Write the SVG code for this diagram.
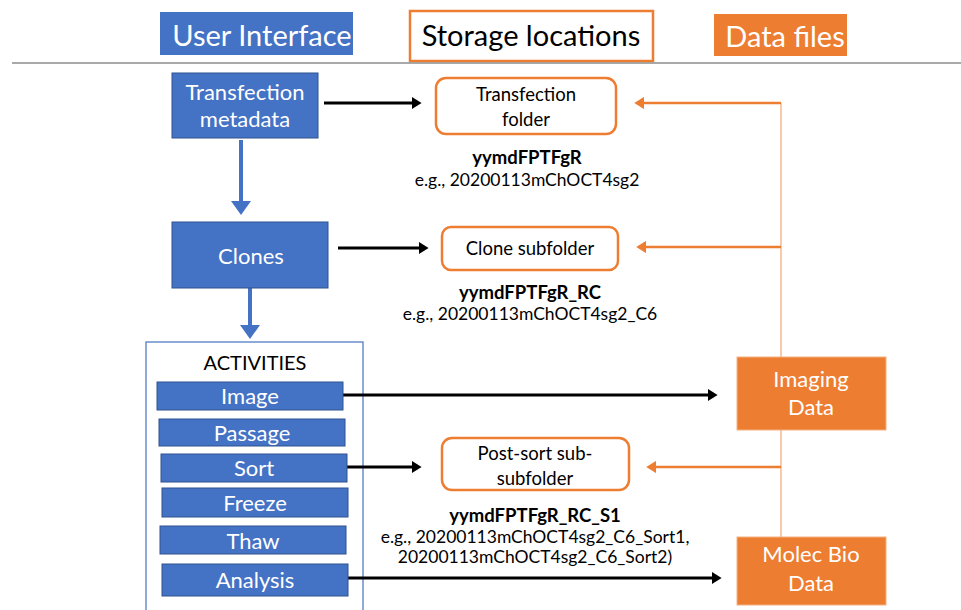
<svg xmlns="http://www.w3.org/2000/svg" width="961" height="610" viewBox="0 0 961 610">
<defs>
<style>
text{font-family:Lato,"Open Sans","Liberation Sans",sans-serif;text-anchor:middle}
.bf{fill:#4472C4;stroke:#2F528F;stroke-width:1}
.of{fill:#ED7D31;stroke:#F4B183;stroke-width:1}
.ob{fill:#fff;stroke:#ED7D31;stroke-width:2.5}
.wt{fill:#fff}
.bk{fill:#000}
.ar{stroke:#000;stroke-width:3;fill:none}
.oa{stroke:#ED7D31;stroke-width:2.5;fill:none}
.ol{stroke:#F4A572;stroke-width:1.2;fill:none}
.ba{stroke:#4472C4;stroke-width:4;fill:none}
</style>
<marker id="mk" markerWidth="4" markerHeight="4" refX="2" refY="2" orient="auto" markerUnits="strokeWidth"><path d="M0,0 L3.2,2 L0,4 z" fill="#000"/></marker>
<marker id="mo" markerWidth="5" markerHeight="5" refX="2.5" refY="2.5" orient="auto" markerUnits="strokeWidth"><path d="M0,0 L4,2.5 L0,5 z" fill="#ED7D31"/></marker>
<marker id="mb" markerWidth="5" markerHeight="5" refX="2.5" refY="2.5" orient="auto" markerUnits="strokeWidth"><path d="M0,0 L3.5,2.5 L0,5 z" fill="#4472C4"/></marker>
</defs>
<rect width="961" height="610" fill="#fff"/>

<g id="header">
<rect x="160" y="12" width="193" height="43" fill="#4472C4"/>
<text x="262" y="46" font-size="29" class="wt">User Interface</text>
<rect x="410" y="11" width="243" height="50" fill="#fff" stroke="#ED7D31" stroke-width="2.5"/>
<text x="531" y="46" font-size="29" class="bk">Storage locations</text>
<rect x="714" y="14" width="133" height="42" fill="#ED7D31"/>
<text x="785" y="47" font-size="29" class="wt">Data files</text>
<line x1="12" y1="63" x2="961" y2="63" stroke="#8c8c8c" stroke-width="1.5"/>
</g>

<g id="activities">
<rect x="146" y="342" width="217" height="280" fill="none" stroke="#4472C4" stroke-width="1.2"/>
<text x="255" y="370" font-size="20" class="bk">ACTIVITIES</text>
</g>

<g id="connectors">
<line class="ar" x1="324" y1="103" x2="418" y2="103" marker-end="url(#mk)"/>
<line class="ar" x1="338" y1="248" x2="425" y2="248" marker-end="url(#mk)"/>
<line class="ar" x1="343" y1="395" x2="714" y2="395" marker-end="url(#mk)"/>
<line class="ar" x1="347" y1="467" x2="418" y2="467" marker-end="url(#mk)"/>
<line class="ar" x1="348" y1="578" x2="718" y2="578" marker-end="url(#mk)"/>
<line class="ol" x1="781" y1="103" x2="781" y2="537"/>
<line class="oa" x1="781" y1="103" x2="638" y2="103" marker-end="url(#mo)"/>
<line class="oa" x1="781" y1="247" x2="640" y2="247" marker-end="url(#mo)"/>
<line class="oa" x1="781" y1="467" x2="650" y2="467" marker-end="url(#mo)"/>
<line class="ba" x1="241" y1="140" x2="241" y2="211" marker-end="url(#mb)" stroke-width="3.5"/>
<line class="ba" x1="250" y1="288" x2="250" y2="335" marker-end="url(#mb)"/>
</g>

<g id="transfection-metadata">
<rect class="bf" x="172" y="73" width="146" height="65"/>
<text x="245" y="100" font-size="22" class="wt">Transfection</text>
<text x="245" y="127" font-size="22" class="wt">metadata</text>
</g>

<g id="transfection-folder">
<rect class="ob" x="436" y="78" width="180" height="56" rx="10"/>
<text x="526" y="101" font-size="18.5" class="bk">Transfection</text>
<text x="526" y="126" font-size="18.5" class="bk">folder</text>
<text x="527" y="164" font-size="18.5" font-weight="bold" class="bk">yymdFPTFgR</text>
<text x="527" y="186" font-size="17.5" class="bk">e.g., 20200113mChOCT4sg2</text>
</g>

<g id="clones">
<rect class="bf" x="172" y="222" width="156" height="66"/>
<text x="251" y="264" font-size="22" class="wt">Clones</text>
</g>

<g id="clone-subfolder">
<rect class="ob" x="442" y="227" width="176" height="43" rx="9"/>
<text x="530" y="255" font-size="18.5" class="bk">Clone subfolder</text>
<text x="530" y="299" font-size="18.5" font-weight="bold" class="bk">yymdFPTFgR_RC</text>
<text x="530" y="320" font-size="17.5" class="bk">e.g., 20200113mChOCT4sg2_C6</text>
</g>

<g id="image">
<rect class="bf" x="157" y="382" width="186" height="28"/>
<text x="250" y="404" font-size="22" class="wt">Image</text>
</g>
<g id="passage">
<rect class="bf" x="159" y="419" width="186" height="27"/>
<text x="252" y="441" font-size="22" class="wt">Passage</text>
</g>
<g id="sort">
<rect class="bf" x="161" y="454" width="186" height="28"/>
<text x="254" y="476" font-size="22" class="wt">Sort</text>
</g>
<g id="freeze">
<rect class="bf" x="162" y="488" width="186" height="29"/>
<text x="255" y="511" font-size="22" class="wt">Freeze</text>
</g>
<g id="thaw">
<rect class="bf" x="160" y="526" width="186" height="28"/>
<text x="253" y="549" font-size="22" class="wt">Thaw</text>
</g>
<g id="analysis">
<rect class="bf" x="162" y="564" width="186" height="32"/>
<text x="255" y="588" font-size="22" class="wt">Analysis</text>
</g>

<g id="post-sort-subfolder">
<rect class="ob" x="442" y="438" width="187" height="52" rx="10"/>
<text x="535" y="460" font-size="18.5" class="bk">Post-sort sub-</text>
<text x="535" y="485" font-size="18.5" class="bk">subfolder</text>
<text x="535" y="522" font-size="18.5" font-weight="bold" class="bk">yymdFPTFgR_RC_S1</text>
<text x="535" y="543" font-size="17.5" class="bk">e.g., 20200113mChOCT4sg2_C6_Sort1,</text>
<text x="535" y="563" font-size="17.5" class="bk">20200113mChOCT4sg2_C6_Sort2)</text>
</g>

<g id="imaging-data">
<rect class="of" x="737" y="357" width="149" height="73"/>
<text x="811" y="387" font-size="22" class="wt">Imaging</text>
<text x="811" y="415" font-size="22" class="wt">Data</text>
</g>

<g id="molec-bio-data">
<rect class="of" x="737" y="537" width="149" height="68"/>
<text x="811" y="562" font-size="22" class="wt">Molec Bio</text>
<text x="811" y="591" font-size="22" class="wt">Data</text>
</g>
</svg>
